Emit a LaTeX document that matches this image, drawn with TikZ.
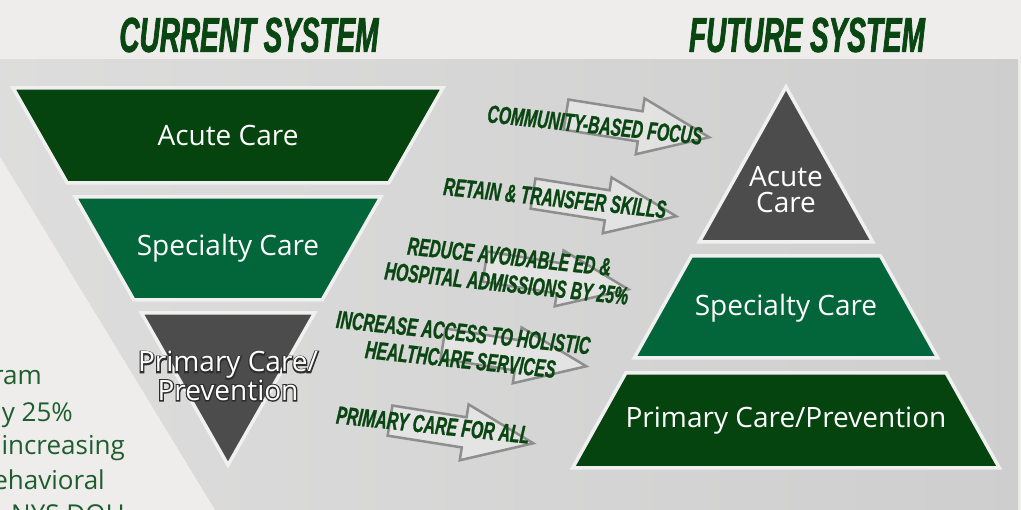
\documentclass[tikz,border=0pt]{standalone}
\usepackage{fontspec}
\setmainfont{Open Sans}
\newfontfamily\headfont{Liberation Sans}[FakeStretch=0.57, FakeBold=1.5]
\newfontfamily\tagfont{Liberation Sans}[FakeStretch=0.63, FakeBold=1]
\newfontface\rimfont{Open Sans}[FakeBold=9]
\usetikzlibrary{shapes.arrows}

\definecolor{darkgrn}{HTML}{05430F}
\definecolor{midgrn}{HTML}{03653A}
\definecolor{slate}{HTML}{4B4C4B}
\definecolor{headgrn}{HTML}{0A4612}
\definecolor{sidegrn}{HTML}{1E5E2E}
\definecolor{arrgray}{HTML}{8E8E8E}
\definecolor{panel}{HTML}{D9D9D9}
\definecolor{paper}{HTML}{EEEDEB}

\tikzset{
  tier/.style={draw=white!94!black, line width=3.5pt, line join=miter},
  caretext/.style={text=white, font=\fontsize{28}{26}\selectfont, align=center, inner sep=0pt},
  rimtext/.style={caretext, text=slate!60!black, font=\rimfont\fontsize{28}{26}\selectfont},
  heading/.style={text=headgrn, font=\headfont\bfseries\itshape\fontsize{49}{49}\selectfont},
  goal/.style={text=headgrn, font=\tagfont\bfseries\itshape\fontsize{25}{27}\selectfont, align=center, rotate=-6, inner sep=0pt},
  goalarrow/.style={single arrow, draw=arrgray, line width=2.5pt, fill=white, fill opacity=0.35,
    minimum height=145pt, inner xsep=0pt, inner ysep=14pt, single arrow head extend=13pt,
    single arrow tip angle=44, rotate=-9},
  sidetext/.style={text=sidegrn, font=\fontsize{26}{26}\selectfont, anchor=base east, inner sep=0pt}
}

\begin{document}
\begin{tikzpicture}[x=1pt,y=-1pt]
  \useasboundingbox (0,0) rectangle (1021,510);
  \clip (0,0) rectangle (1021,510);

  % background
  \fill[paper] (0,0) rectangle (1021,510);
  \shade[left color=panel!80!paper, right color=panel!95!black] (0,60) rectangle (1018,510);
  \fill[paper] (0,157) -- (75,280) -- (215,510) -- (0,510) -- cycle;

  % text cut off on the left
  \node[sidetext] (s1) at (42,385) {ram};
  \node[sidetext] (s2) at (73,422) {y 25\%};
  \node[sidetext] (s3) at (125,455) {increasing};
  \node[sidetext] (s4) at (105,490) {ehavioral};
  \node[sidetext] (s5) at (125,524) {NYS DOH};

  % headings
  \node[heading] (cur) at (249,35) {CURRENT SYSTEM};
  \node[heading] (fut) at (807,35) {FUTURE SYSTEM};

  % current system (inverted)
  \draw[tier, fill=darkgrn] (13.1,88) -- (442.9,88) -- (388.7,183) -- (67.3,183) -- cycle;
  \draw[tier, fill=midgrn] (75.2,197) -- (380.8,197) -- (322.1,300) -- (133.9,300) -- cycle;
  \draw[tier, fill=slate] (141.4,313) -- (314.6,313) -- (228,465) -- cycle;
  \node[caretext] (cacute) at (228,136) {Acute Care};
  \node[caretext] (cspec) at (228,248) {Specialty Care};
  \node[rimtext] (cprimrim) at (228,376) {Primary Care/\\Prevention};
  \node[caretext] (cprim) at (cprimrim) {Primary Care/\\Prevention};

  % future system
  \draw[tier, fill=slate] (786,87) -- (872.8,242) -- (699.2,242) -- cycle;
  \draw[tier, fill=midgrn] (691.4,256) -- (880.6,256) -- (937.8,358) -- (634.2,358) -- cycle;
  \draw[tier, fill=darkgrn] (625.8,373) -- (946.2,373) -- (999.4,468) -- (572.6,468) -- cycle;
  \node[caretext] (facute) at (786,190) {Acute\\Care};
  \node[caretext] (fspec) at (786,308) {Specialty Care};
  \node[caretext] (fprim) at (786,421) {Primary Care/Prevention};

  % arrows
  \node[goalarrow] (a1) at (619,123) {};
  \node[goalarrow] (a2) at (586,202) {};
  \node[goalarrow] (a3) at (538,275) {};
  \node[goalarrow] (a4) at (496,352) {};
  \node[goalarrow] (a5) at (443,429) {};

  % goals
  \node[goal] (g1) at (595,125) {COMMUNITY-BASED FOCUS};
  \node[goal] (g2) at (555,198) {RETAIN \& TRANSFER SKILLS};
  \node[goal] (g3) at (508,270) {REDUCE AVOIDABLE ED \&\\HOSPITAL ADMISSIONS BY 25\%};
  \node[goal] (g4) at (462,346) {INCREASE ACCESS TO HOLISTIC\\HEALTHCARE SERVICES};
  \node[goal] (g5) at (433,425) {PRIMARY CARE FOR ALL};
\end{tikzpicture}
\end{document}
